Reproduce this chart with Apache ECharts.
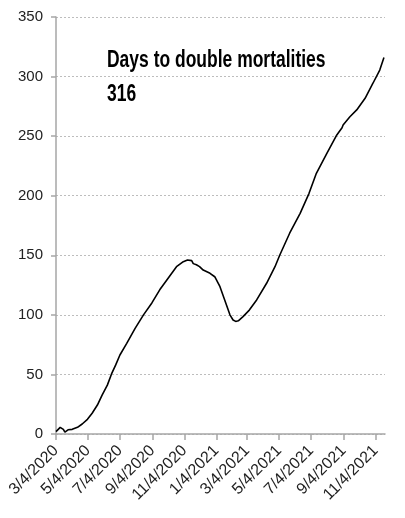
<!DOCTYPE html>
<html>
<head>
    <meta charset="utf-8">
    <title>Days to double mortalities</title>
    <script src="https://cdn.jsdelivr.net/npm/echarts@6/dist/echarts.min.js"></script>
    <style>
        html, body { margin: 0; padding: 0; background: #fff; }
        #chart { width: 405px; height: 518px; }
    </style>
</head>
<body>
<div id="chart"></div>
<script>
    // tick labels on the date axis (every two months)
    var tickLabels = ['3/4/2020', '5/4/2020', '7/4/2020', '9/4/2020', '11/4/2020',
        '1/4/2021', '3/4/2021', '5/4/2021', '7/4/2021', '9/4/2021', '11/4/2021'];

    // days since 3/4/2020, and the days-to-double value
    var dayOffsets = [0, 1, 8, 14, 17, 18, 23, 31, 41, 50, 60, 69, 79, 88, 98, 106, 114, 122,
        135, 151, 167, 183, 198, 214, 230, 243, 251, 259, 262, 268, 274, 281, 294, 303,
        313, 322, 332, 338, 343, 348, 357, 369, 383, 402, 418, 427, 446, 466, 483, 497,
        517, 536, 546, 548, 561, 574, 590, 605, 618, 626];
    var doublingDays = [2, 3.4, 5.6, 3.9, 1.5, 0.5, 3.5, 3.9, 5.6, 8.4, 12.3, 17.4, 24.3, 32.7, 41, 50.4, 58, 66.3,
        76, 88.7, 100, 110, 121, 130.7, 140.4, 144.6, 146, 145.5, 143, 142, 140.5, 137.6, 134.9, 132,
        123.6, 112.5, 100, 95.7, 94.5, 95, 98.5, 104, 112.5, 126.5, 140.4, 150, 168.5, 185.2, 202, 218.8,
        235.6, 251, 257, 259.4, 266.3, 272, 281.8, 294.4, 305.5, 316];

    var DAY = 86400000;
    function parseMDY(s) {
        var p = s.split('/').map(Number);
        return Date.UTC(p[2], p[0] - 1, p[1]);
    }
    var start = parseMDY(tickLabels[0]);
    var tickDays = tickLabels.map(function (s) {
        return Math.round((parseMDY(s) - start) / DAY);
    });
    var seriesData = dayOffsets.map(function (d, i) {
        return [d, doublingDays[i]];
    });

    var labelFont = '"Liberation Sans", Arial, sans-serif';
    var titleFont = 'bold 23px "Liberation Sans", Arial, sans-serif';
    var chart = echarts.init(document.getElementById('chart'));

    var option = {
        animation: false,
        grid: { left: 56, right: 20, top: 17, bottom: 84 },
        xAxis: {
            type: 'value',
            min: 0,
            max: 628,
            axisLine: { show: true, lineStyle: { color: '#a6a6a6', width: 1.5 } },
            axisTick: {
                show: true,
                customValues: tickDays,
                length: 6,
                lineStyle: { color: '#a6a6a6', width: 1.5 }
            },
            axisLabel: {
                customValues: tickDays,
                rotate: 45,
                margin: 14,
                color: '#222',
                fontFamily: labelFont,
                fontSize: 16,
                formatter: function (v) {
                    var i = tickDays.indexOf(Math.round(v));
                    return i >= 0 ? tickLabels[i] : '';
                }
            },
            splitLine: { show: false }
        },
        yAxis: {
            type: 'value',
            min: 0,
            max: 350,
            interval: 50,
            axisLine: { show: true, lineStyle: { color: '#a6a6a6', width: 1.5 } },
            axisTick: { show: true, length: 5, lineStyle: { color: '#a6a6a6', width: 1.5 } },
            axisLabel: {
                margin: 13,
                color: '#222',
                fontFamily: labelFont,
                fontSize: 15
            },
            splitLine: { show: true, lineStyle: { color: '#bdbdbd', type: [2, 2], width: 1 } }
        },
        series: [{
            type: 'line',
            data: seriesData,
            showSymbol: false,
            lineStyle: { color: '#000', width: 1.6 },
            z: 3
        }],
        graphic: [
            {
                type: 'text', x: 107, y: 61, scaleX: 0.76,
                style: {
                    text: 'Days to double mortalities',
                    fill: '#000',
                    font: titleFont,
                    verticalAlign: 'middle'
                }
            },
            {
                type: 'text', x: 107, y: 95, scaleX: 0.76,
                style: {
                    text: '316',
                    fill: '#000',
                    font: titleFont,
                    verticalAlign: 'middle'
                }
            }
        ]
    };

    chart.setOption(option);
</script>
</body>
</html>
